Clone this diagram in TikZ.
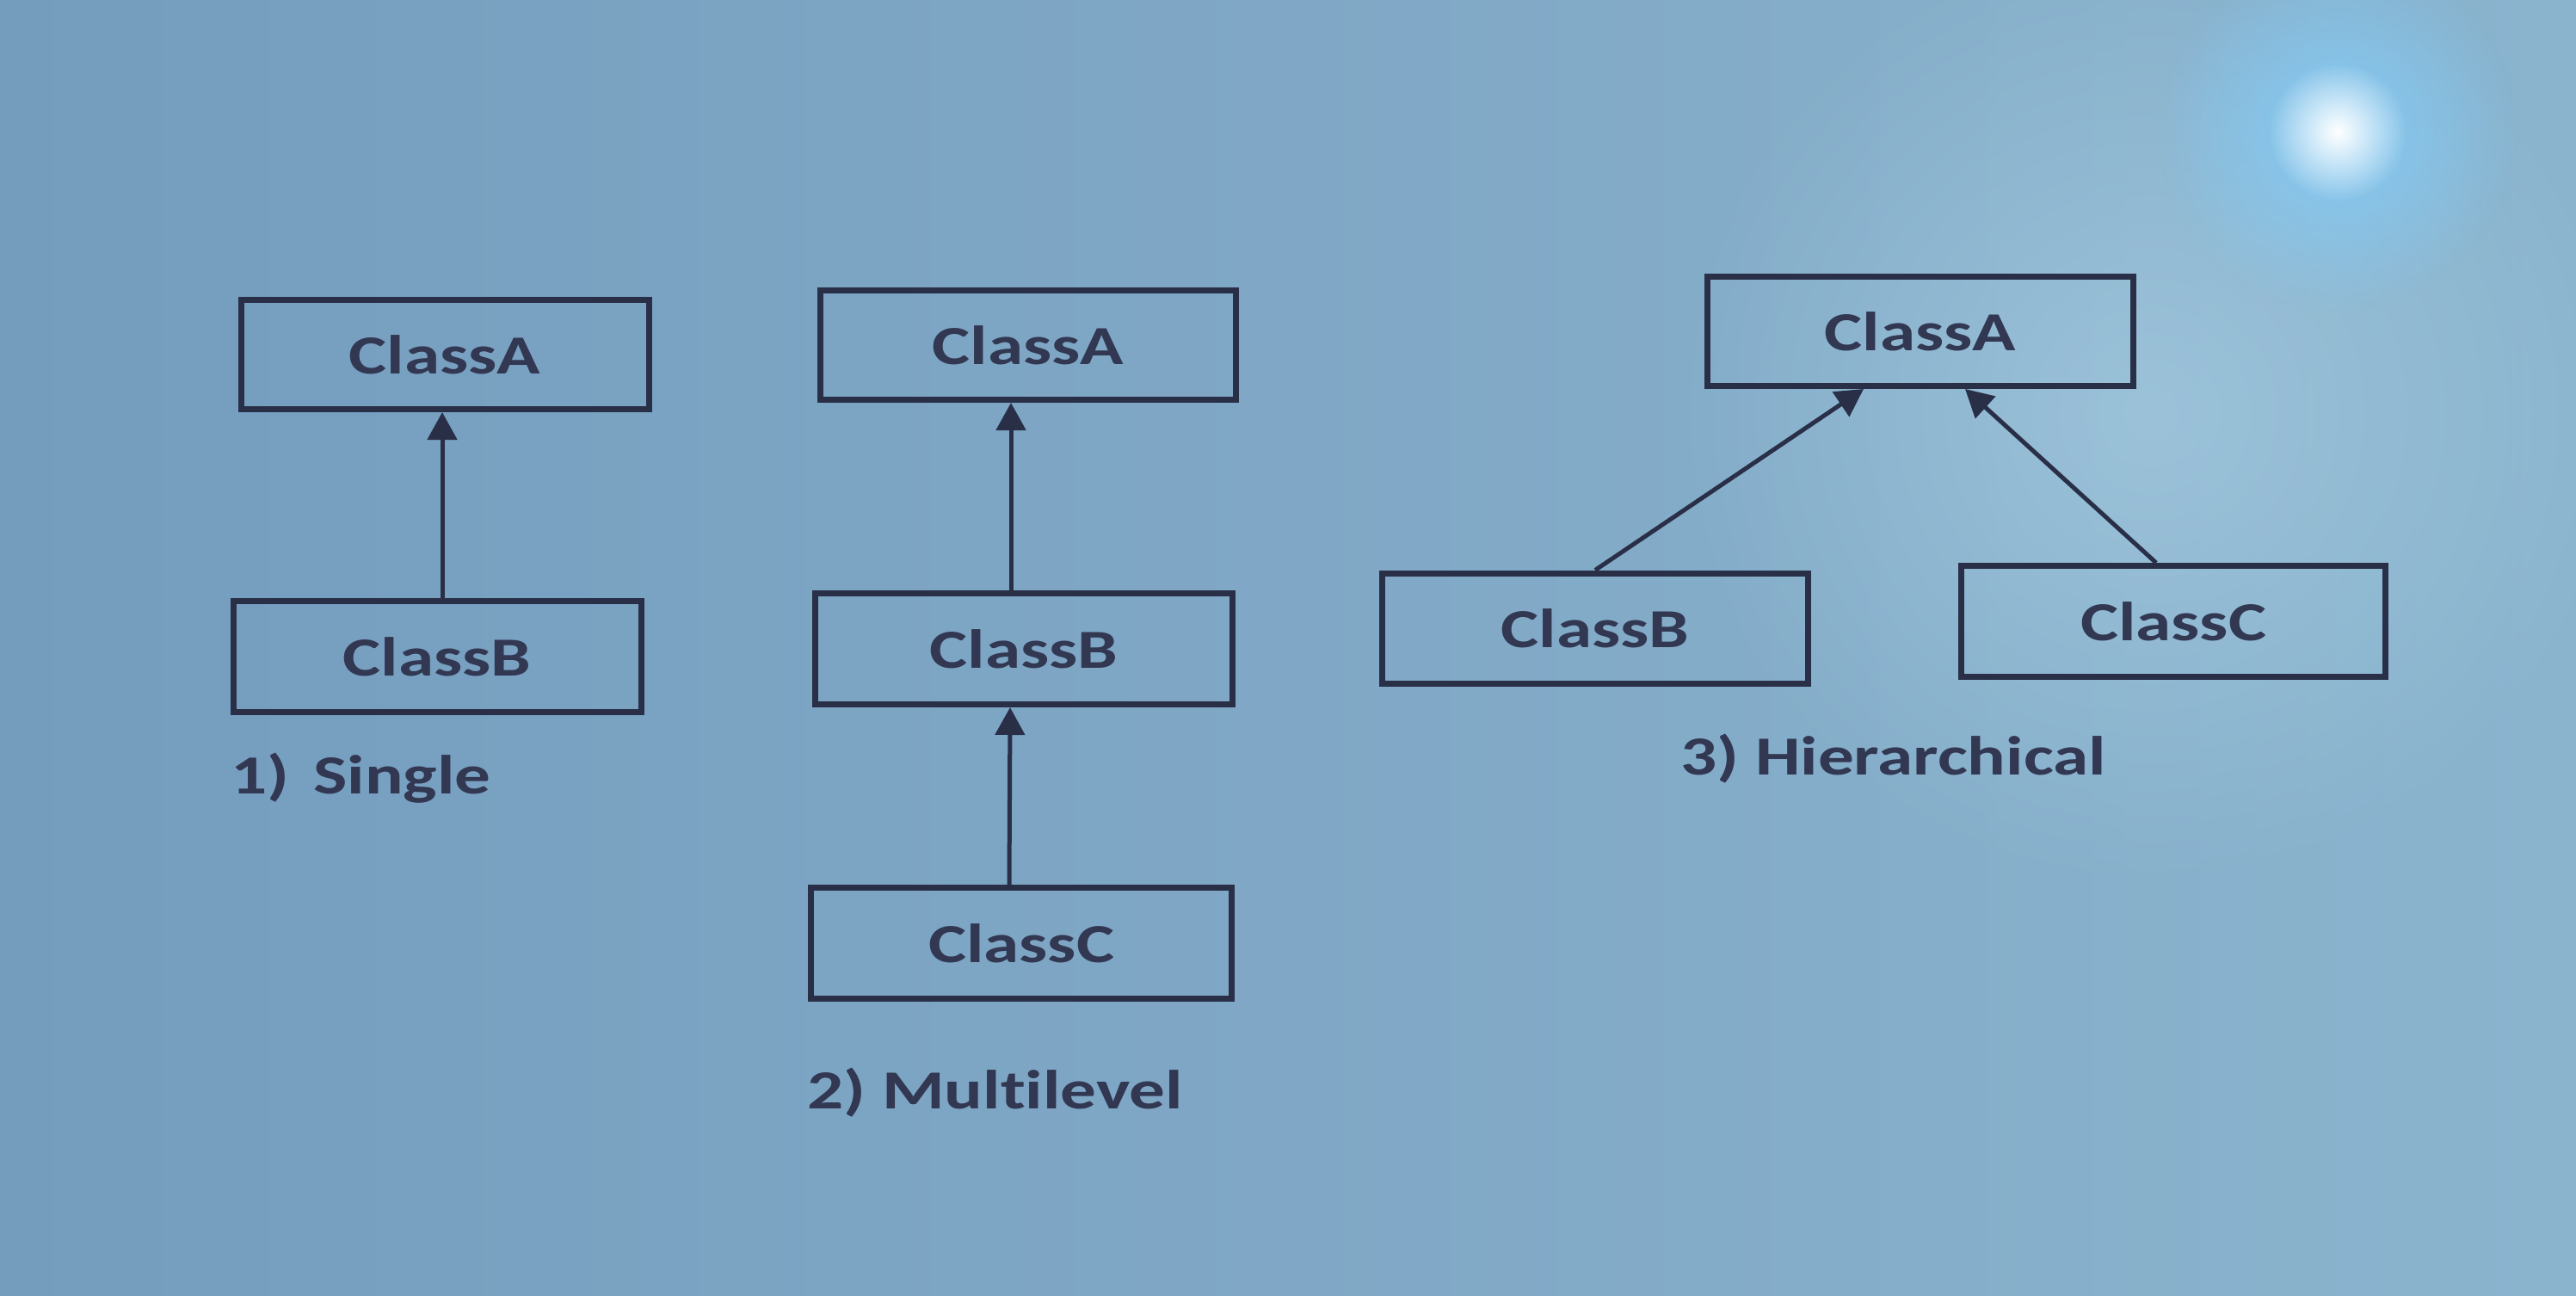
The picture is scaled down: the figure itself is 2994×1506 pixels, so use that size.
\documentclass[tikz,border=0pt]{standalone}
\usepackage{fontspec}
\setmainfont{Carlito}[FakeStretch=1.3, Ligatures=NoCommon]
\usetikzlibrary{arrows.meta,calc,fadings}
\definecolor{bgL}{RGB}{116,156,189}
\definecolor{bgM}{RGB}{128,168,198}
\definecolor{bgR}{RGB}{138,180,206}
\definecolor{linec}{RGB}{42,47,72}
\definecolor{textc}{RGB}{50,55,82}
\definecolor{halo}{RGB}{130,205,250}
\definecolor{haze}{RGB}{175,212,230}
\tikzfading[name=glowfade, inner color=transparent!0, outer color=transparent!100]
\tikzset{
  cls/.style={draw=linec, line width=7pt, inner sep=0pt, text=textc,
    font=\fontsize{64}{72}\selectfont\bfseries},
  lbl/.style={anchor=base west, inner sep=0pt, text=textc,
    font=\fontsize{64}{72}\selectfont\bfseries},
  inh/.style={draw=linec, line width=5pt,
    -{Triangle[length=32pt,width=34pt]}}
}
\begin{document}
\begin{tikzpicture}[x=1pt,y=-1pt]
\useasboundingbox (0,0) rectangle (2994,1506);
% background
\shade[left color=bgL, right color=bgR, middle color=bgM] (0,0) rectangle (2994,1506);
\fill[haze, opacity=0.5, path fading=glowfade] (2500,480) circle (560);
\fill[halo, opacity=0.9, path fading=glowfade] (2717,153) circle (210);
\fill[white, path fading=glowfade] (2717,153) circle (80);

% 1) Single
\node[cls, minimum width=474pt, minimum height=127pt] (sA) at (517,412) {ClassA};
\node[cls, minimum width=474pt, minimum height=129pt] (sB) at (508,763) {ClassB};
\draw[inh] ($(sB.north)+(6,0)$) -- ($(sA.south)+(-3,0)$);
\node[lbl] (sL) at (268,922) {1)\hspace{28pt}Single};

% 2) Multilevel
\node[cls, minimum width=483pt, minimum height=127pt] (mA) at (1195,401) {ClassA};
\node[cls, minimum width=485pt, minimum height=129pt] (mB) at (1190,754) {ClassB};
\node[cls, minimum width=489pt, minimum height=129pt] (mC) at (1187,1096) {ClassC};
\draw[inh] ($(mB.north)+(-15,0)$) -- ($(mA.south)+(-20,0)$);
\draw[inh] ($(mC.north)+(-14,0)$) -- ($(mB.south)+(-16,0)$);
\node[lbl] (mL) at (938,1288) {2) Multilevel};

% 3) Hierarchical
\node[cls, minimum width=495pt, minimum height=127pt] (hA) at (2232,385) {ClassA};
\node[cls, minimum width=495pt, minimum height=128pt] (hB) at (1854,730) {ClassB};
\node[cls, minimum width=493pt, minimum height=129pt] (hC) at (2526,722) {ClassC};
\draw[inh] (hB.north) -- ($(hA.south)+(-66,0)$);
\draw[inh] ($(hC.north)+(-20,0)$) -- ($(hA.south)+(52,0)$);
\node[lbl] (hL) at (1953,900) {3) Hierarchical};
\end{tikzpicture}
\end{document}
